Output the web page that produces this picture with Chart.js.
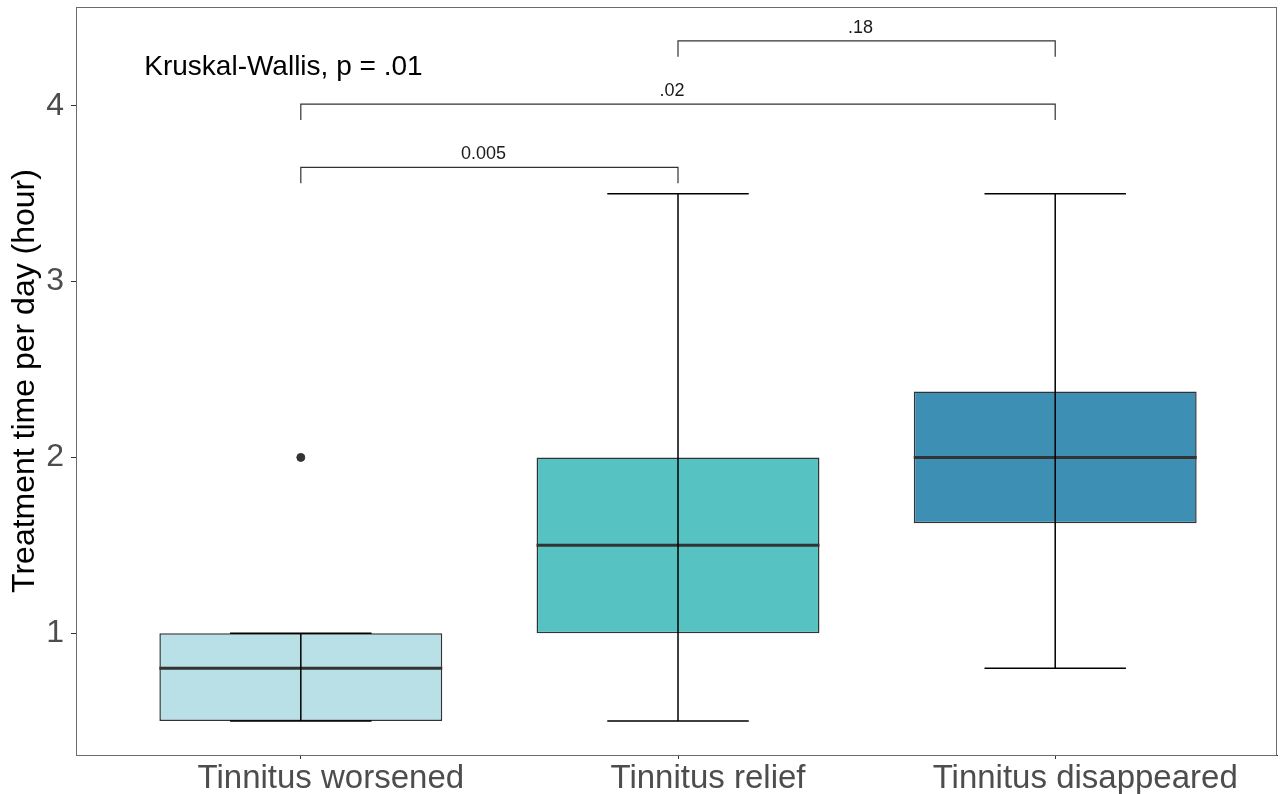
<!DOCTYPE html>
<html>
<head>
<meta charset="utf-8">
<script src="https://cdn.jsdelivr.net/npm/chart.js@4.4.1/dist/chart.umd.min.js"></script>
<style>
  html, body { margin: 0; padding: 0; background: #fff; }
  #wrap { width: 1280px; height: 794px; }
</style>
</head>
<body>
<div id="wrap"><canvas id="c" width="1280" height="794"></canvas></div>
<script>
// Groups and their box-plot summaries (hours of treatment per day)
const categories = ['Tinnitus worsened', 'Tinnitus relief', 'Tinnitus disappeared'];
const whiskerLow = [0.5, 0.5, 0.8];
const q1 = [0.5, 1.0, 1.625];
const median = [0.8, 1.5, 2.0];
const q3 = [1.0, 2.0, 2.375];
const whiskerHigh = [1.0, 3.5, 3.5];
const outliers = [{ group: 0, value: 2.0 }];
const fills = ['#B9DFE7', '#56C3C2', '#3E8FB4'];
const yTicks = [1, 2, 3, 4];

// Pairwise comparisons drawn as brackets above the boxes
const pairs = [[0, 1], [0, 2], [1, 2]];
const pairLevels = [3.65, 4.01, 4.37];
const pairLabels = ['0.005', '.02', '.18'];
const overallTest = 'Kruskal-Wallis, p = .01';

const FONT = '"Liberation Sans", Arial, sans-serif';

const boxPlugin = {
  id: 'boxParts',
  afterDatasetsDraw(chart) {
    const { ctx, scales: { x, y } } = chart;
    const meta = chart.getDatasetMeta(0);
    ctx.save();
    categories.forEach((_, i) => {
      const bar = meta.data[i];
      const half = bar.width / 2;
      const cx = x.getPixelForValue(i);
      // median
      ctx.strokeStyle = '#333333';
      ctx.lineWidth = 3;
      ctx.beginPath();
      ctx.moveTo(cx - half, y.getPixelForValue(median[i]));
      ctx.lineTo(cx + half, y.getPixelForValue(median[i]));
      ctx.stroke();
      // whiskers with caps
      ctx.strokeStyle = '#000000';
      ctx.lineWidth = 1.5;
      const capHalf = half / 2;
      const yl = y.getPixelForValue(whiskerLow[i]);
      const yh = y.getPixelForValue(whiskerHigh[i]);
      ctx.beginPath();
      ctx.moveTo(cx, yl); ctx.lineTo(cx, yh);
      ctx.moveTo(cx - capHalf, yl); ctx.lineTo(cx + capHalf, yl);
      ctx.moveTo(cx - capHalf, yh); ctx.lineTo(cx + capHalf, yh);
      ctx.stroke();
    });
    ctx.restore();
  },
  afterDraw(chart) {
    const { ctx, scales: { x, y }, chartArea } = chart;
    ctx.save();
    // panel frame
    ctx.strokeStyle = '#6b6b6b';
    ctx.lineWidth = 1;
    ctx.strokeRect(chartArea.left + 0.5, chartArea.top + 0.5,
      chartArea.right - chartArea.left - 1, chartArea.bottom - chartArea.top);
    // comparison brackets
    const drop = 0.09;
    ctx.strokeStyle = '#333333';
    ctx.lineWidth = 1.2;
    ctx.fillStyle = '#1a1a1a';
    ctx.font = '18px ' + FONT;
    ctx.textAlign = 'center';
    ctx.textBaseline = 'alphabetic';
    pairs.forEach((p, k) => {
      const xa = x.getPixelForValue(p[0]);
      const xb = x.getPixelForValue(p[1]);
      const yt = y.getPixelForValue(pairLevels[k]);
      const yd = y.getPixelForValue(pairLevels[k] - drop);
      ctx.beginPath();
      ctx.moveTo(xa, yd); ctx.lineTo(xa, yt); ctx.lineTo(xb, yt); ctx.lineTo(xb, yd);
      ctx.stroke();
      ctx.fillText(pairLabels[k], (xa + xb) / 2 - 6, yt - 8);
    });
    // overall test annotation
    ctx.font = '28px ' + FONT;
    ctx.fillStyle = '#000000';
    ctx.textAlign = 'left';
    ctx.fillText(overallTest, x.getPixelForValue(-0.415), y.getPixelForValue(4.177));
    ctx.restore();
  }
};

new Chart(document.getElementById('c'), {
  type: 'bar',
  data: {
    datasets: [
      {
        type: 'bar',
        data: categories.map((_, i) => ({ x: i, y: [q1[i], q3[i]] })),
        backgroundColor: fills,
        borderColor: '#333333',
        borderWidth: 1.5,
        borderSkipped: false,
        categoryPercentage: 1,
        barPercentage: 0.75,
        order: 2
      },
      {
        type: 'scatter',
        data: outliers.map(o => ({ x: o.group, y: o.value })),
        backgroundColor: '#333333',
        borderColor: '#333333',
        pointRadius: 4,
        order: 1
      }
    ]
  },
  options: {
    responsive: false,
    animation: false,
    devicePixelRatio: 1,
    layout: { autoPadding: false, padding: { top: 7, right: 3, left: 0, bottom: 0 } },
    plugins: { legend: { display: false }, tooltip: { enabled: false } },
    scales: {
      x: {
        type: 'linear',
        min: -0.596,
        max: 2.588,
        offset: false,
        afterBuildTicks: s => { s.ticks = categories.map((_, i) => ({ value: i })); },
        afterFit: s => { s.height = 39; s.paddingLeft = 0; s.paddingRight = 0; },
        ticks: {
          callback: v => categories[v] || '',
          color: '#4D4D4D',
          font: { family: FONT, size: 33 },
          padding: 0,
          labelOffset: 30,
          maxRotation: 0,
          autoSkip: false
        },
        grid: { display: true, offset: false, drawOnChartArea: false, tickLength: 4, color: '#333333' },
        border: { display: true, color: '#333333', width: 1 }
      },
      y: {
        type: 'linear',
        min: 0.307,
        max: 4.5625,
        afterBuildTicks: s => { s.ticks = yTicks.map(v => ({ value: v })); },
        afterFit: s => { s.width = 76; s.paddingTop = 0; s.paddingBottom = 0; },
        ticks: {
          color: '#4D4D4D',
          font: { family: FONT, size: 32 },
          padding: 7
        },
        grid: { display: true, drawOnChartArea: false, tickLength: 5, color: '#333333' },
        border: { display: true, color: '#333333', width: 1 },
        title: {
          display: true,
          text: 'Treatment time per day (hour)',
          color: '#000000',
          font: { family: FONT, size: 32 },
          padding: { top: 6, bottom: 0 }
        }
      }
    }
  },
  plugins: [boxPlugin]
});
</script>
</body>
</html>
